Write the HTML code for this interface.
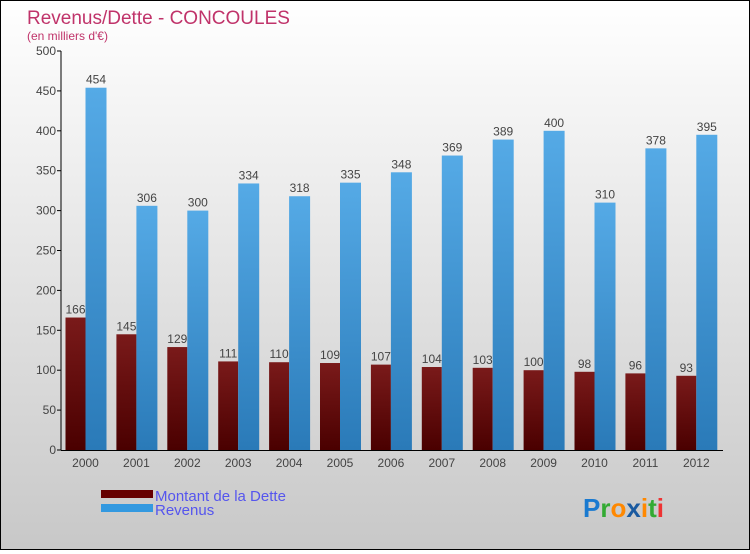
<!DOCTYPE html>
<html><head><meta charset="utf-8"><style>
body{margin:0}
#c{width:748px;height:548px;border:1px solid #000;background:linear-gradient(#fff,#c8c8c8);position:relative;font-family:"Liberation Sans",sans-serif}
</style></head><body>
<div id="c">
<svg width="748" height="548" id="s"></svg>
</div>
<script>
const years=["2000","2001","2002","2003","2004","2005","2006","2007","2008","2009","2010","2011","2012"];
const dette=[166,145,129,111,110,109,107,104,103,100,98,96,93];
const revenus=[454,306,300,334,318,335,348,369,389,400,310,378,395];
const ticks=[0,50,100,150,200,250,300,350,400,450,500];
const NS="http://www.w3.org/2000/svg";
const s=document.getElementById('s');
function el(t,a,txt){const e=document.createElementNS(NS,t);for(const k in a)e.setAttribute(k,a[k]);if(txt!==undefined)e.textContent=txt;s.appendChild(e);return e;}
const y=v=>449-v*0.798;
const cx=i=>84.5+i*50.9;
const defs=el('defs',{});
defs.innerHTML='<linearGradient id="gd" x1="0" y1="0" x2="0" y2="1"><stop offset="0" stop-color="#7a1a1a"/><stop offset="1" stop-color="#4a0000"/></linearGradient><linearGradient id="gr" x1="0" y1="0" x2="0" y2="1"><stop offset="0" stop-color="#55aae6"/><stop offset="1" stop-color="#2a7ab8"/></linearGradient>';
let t=el('text',{x:26,y:23,fill:'#c0336a','font-size':19},'Revenus/Dette - CONCOULES');

t=el('text',{x:26,y:39,fill:'#c0336a','font-size':12},"(en milliers d'€)");

ticks.forEach(v=>{
 let l=el('line',{x1:56,x2:60,y1:y(v),y2:y(v),stroke:'#000'});
 
 let tx=el('text',{x:55,y:y(v)+4,'text-anchor':'end','font-size':12,fill:'#444'},v);
 
});
years.forEach((yr,i)=>{
 const c=cx(i);
 let b=el('rect',{x:c-20,y:y(dette[i]),width:20,height:y(0)-y(dette[i]),fill:'url(#gd)'});
 
 b=el('rect',{x:c,y:y(revenus[i]),width:21,height:y(0)-y(revenus[i]),fill:'url(#gr)'});
 
 let l=el('text',{x:c-10,y:y(dette[i])-4,'text-anchor':'middle','font-size':12,fill:'#444'},dette[i]);
 
 l=el('text',{x:c+10.5,y:y(revenus[i])-4,'text-anchor':'middle','font-size':12,fill:'#444'},revenus[i]);
 
 l=el('text',{x:c,y:466,'text-anchor':'middle','font-size':12,fill:'#444'},yr);
 
});
let a=el('line',{x1:60,x2:60,y1:50,y2:449,stroke:'#000'});
a=el('line',{x1:60,x2:722,y1:449.5,y2:449.5,stroke:'#000'});
let g=el('rect',{x:100,y:489,width:52,height:8,fill:'#660000'});
g=el('text',{x:154,y:500,'font-size':15,fill:'#5555ee'},'Montant de la Dette');
g=el('rect',{x:100,y:503,width:52,height:8,fill:'#3399e0'});
g=el('text',{x:154,y:514,'font-size':15,fill:'#5555ee'},'Revenus');
g=el('text',{x:582,y:516,'font-size':26,'font-weight':'bold'},'');
g.innerHTML='<tspan fill="#1a7ad0">P</tspan><tspan fill="#33aa33">r</tspan><tspan fill="#ff8800">o</tspan><tspan fill="#1a5aa0">x</tspan><tspan fill="#ff8800">i</tspan><tspan fill="#33aa33">t</tspan><tspan fill="#ee3333">i</tspan>';
</script>
</body></html>
